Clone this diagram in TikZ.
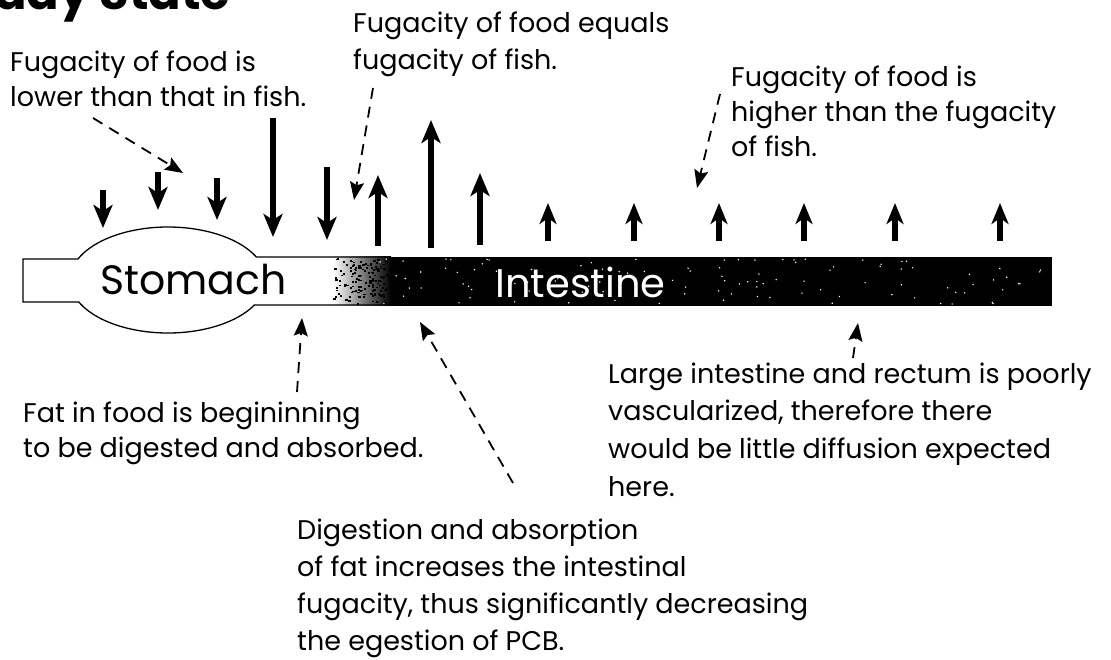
\documentclass[tikz,border=0pt]{standalone}
\usepackage{fontspec}
\setmainfont{Poppins}
\usetikzlibrary{arrows.meta,calc}
\begin{document}
\begin{tikzpicture}[x=1pt,y=-1pt,
  flux/.style={line width=6pt,-{Stealth[length=23pt,width=19pt,inset=6pt]}},
  smallflux/.style={line width=6.5pt,-{Stealth[length=21pt,width=17pt,inset=6pt]}},
  pointer/.style={line width=1.8pt,dash pattern=on 11pt off 8pt,-{Stealth[length=18pt,width=14pt,inset=3pt]}},
  note/.style={font=\fontsize{27}{35}\selectfont,anchor=base west,inner sep=0pt},
  tube/.style={line width=1.3pt}]
\useasboundingbox (0,0) rectangle (1111,660);
\clip (0,0) rectangle (1111,660);

% title (cut off at the top, as in the reference)
\node[font=\bfseries\fontsize{48}{48}\selectfont,anchor=base west,inner sep=0pt] (title) at (-6,10) {ady State};

% tube
\coordinate (C) at (168,280);
\fill[black] (390,257) rectangle (1052,306);
\shade[left color=white,right color=black] (333,257) rectangle (391,306);
\pgfmathsetseed{11}
\foreach \i in {1,...,160}{
  \pgfmathsetmacro\xx{333+58*rnd^0.7}
  \pgfmathsetmacro\yy{258+46*rnd}
  \fill[black] (\xx,\yy) rectangle ++(2.2,1.6);
}
\foreach \i in {1,...,110}{
  \pgfmathsetmacro\xx{380+670*rnd}
  \pgfmathsetmacro\yy{259+45*rnd}
  \fill[white] (\xx,\yy) circle[radius=0.8];
}
\draw[tube] (390,257) -- ($(C)+(334.3:98 and 53)$)
  arc[start angle=334.3,end angle=203.3,x radius=98,y radius=53]
  -- (23,259) -- (23,302) -- ($(C)+(155.5:98 and 53)$)
  arc[start angle=155.5,end angle=28.1,x radius=98,y radius=53] -- (390,305);

\node[font=\fontsize{41}{41}\selectfont,anchor=base west,inner sep=0pt] (stomach) at (100,295) {Stomach};
\node[font=\fontsize{40}{40}\selectfont,text=white,anchor=base west,inner sep=0pt] (intestine) at (495,298) {Intestine};

% flux arrows
\foreach \n/\x/\a/\b in {d1/103/190/228, d2/158/172/210, d3/217/178/220, d4/273/118/237, d5/327/167/240}{
  \coordinate (\n s) at (\x,\a); \coordinate (\n e) at (\x,\b);
  \draw[flux] (\n s) -- (\n e);
}
\foreach \n/\x/\a/\b in {u1/378/246/175, u2/431/248/120, u3/480/245/173}{
  \coordinate (\n s) at (\x,\a); \coordinate (\n e) at (\x,\b);
  \draw[flux] (\n s) -- (\n e);
}
\foreach \n/\x in {v1/548, v2/634, v3/719, v4/804, v5/895, v6/1000}{
  \coordinate (\n s) at (\x,241); \coordinate (\n e) at (\x,203);
  \draw[smallflux] (\n s) -- (\n e);
}

% annotation A
\node[note] (A1) at (10,72) {Fugacity of food is};
\node[note] (A2) at (10,107) {lower than that in fish.};
\coordinate (Aa) at (93,118); \coordinate (Ab) at (183,173);
\draw[pointer] (Aa) -- (Ab);

% annotation B
\node[note] (B1) at (353,33) {Fugacity of food equals};
\node[note] (B2) at (353,70) {fugacity of fish.};
\coordinate (Ba) at (373,88); \coordinate (Bb) at (354,200);
\draw[pointer] (Ba) -- (Bb);

% annotation C
\node[note] (C1) at (731,87) {Fugacity of food is};
\node[note] (C2) at (731,122) {higher than the fugacity};
\node[note] (C3) at (731,157) {of fish.};
\coordinate (Ca) at (720,94); \coordinate (Cb) at (697,188);
\draw[pointer] (Ca) -- (Cb);

% annotation D
\node[note] (D1) at (23,422) {Fat in food is begininning};
\node[note] (D2) at (23,457) {to be digested and absorbed.};
\coordinate (Da) at (297,392); \coordinate (Db) at (302,318);
\draw[pointer] (Da) -- (Db);

% annotation E
\node[note] (E1) at (297,539) {Digestion and absorption};
\node[note] (E2) at (297,576) {of fat increases the intestinal};
\node[note] (E3) at (297,613) {fugacity, thus significantly decreasing};
\node[note] (E4) at (297,650) {the egestion of PCB.};
\coordinate (Ea) at (513,483); \coordinate (Eb) at (420,322);
\draw[pointer] (Ea) -- (Eb);

% annotation F
\node[note] (F1) at (608,383) {Large intestine and rectum is poorly};
\node[note] (F2) at (608,420) {vascularized, therefore there};
\node[note] (F3) at (608,458) {would be little diffusion expected};
\node[note] (F4) at (608,496) {here.};
\coordinate (Fa) at (853,358); \coordinate (Fb) at (858,323);
\draw[pointer] (Fa) -- (Fb);
\end{tikzpicture}
\end{document}
